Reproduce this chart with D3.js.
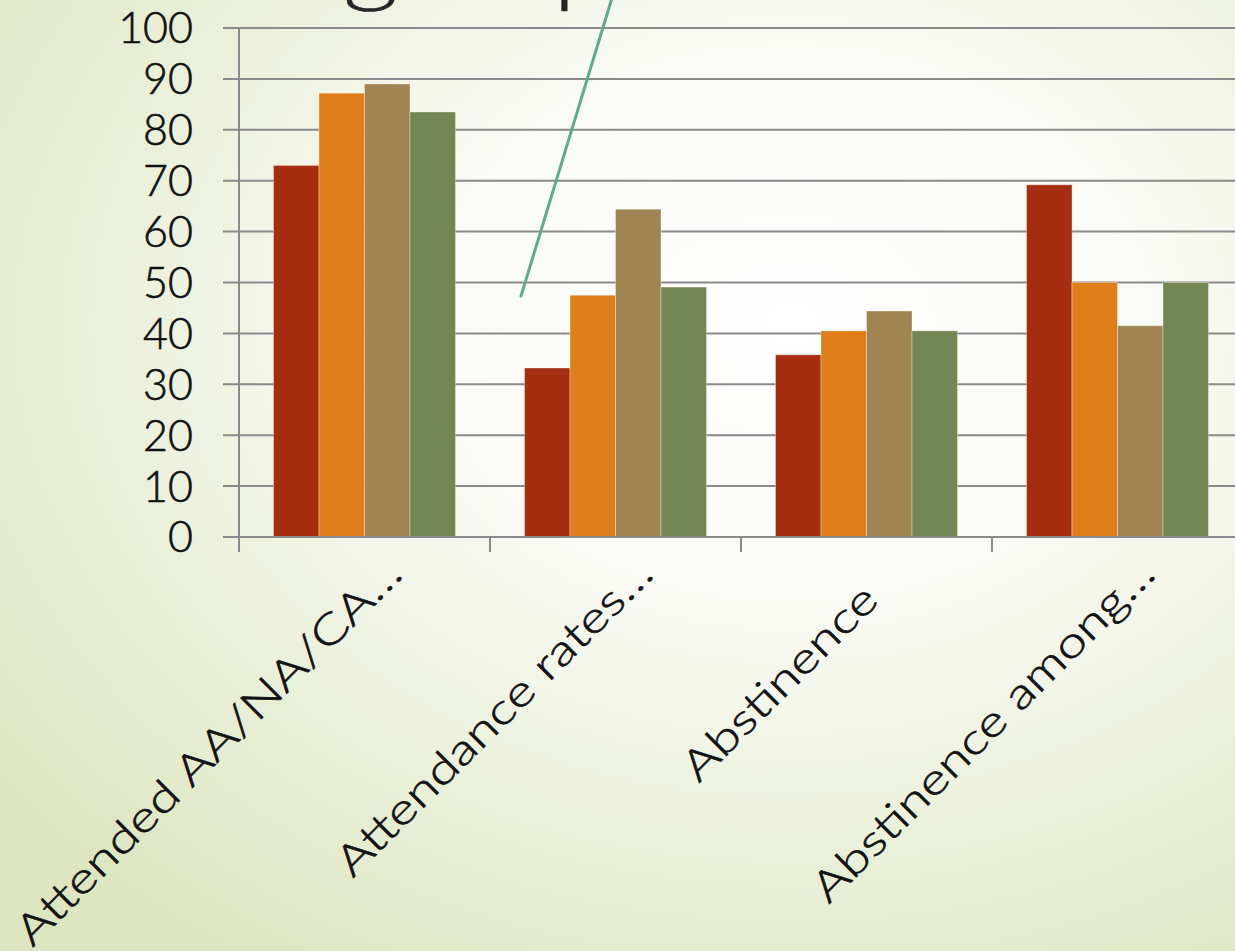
<!DOCTYPE html>
<html>
<head>
  <meta charset="utf-8">
  <style>
    body { margin: 0; padding: 0; overflow: hidden; }
    svg { display: block; }
    .tick-label, .cat-label, .title {
      font-family: "Century Gothic", "URW Gothic", "Lato", sans-serif;
      font-weight: 300;
      fill: #111;
      stroke: #111;
      stroke-width: 0.6px;
    }
  </style>
</head>
<body>
  <div id="chart"></div>
  <script src="https://d3js.org/d3.v7.min.js"></script>
  <script>
    // chart data
    var categories = ["Attended AA/NA/CA\u2026", "Attendance rates\u2026", "Abstinence", "Abstinence among\u2026"];
    var seriesNames = ["Series 1", "Series 2", "Series 3", "Series 4"];
    var series1 = [73, 33.2, 35.8, 69.2];
    var series2 = [87.2, 47.5, 40.5, 50];
    var series3 = [89, 64.4, 44.4, 41.5];
    var series4 = [83.5, 49.1, 40.5, 50];
    var yTicks = [0, 10, 20, 30, 40, 50, 60, 70, 80, 90, 100];
    var colors = ["#a52e10", "#de7e19", "#a08451", "#738752"];

    var allSeries = [series1, series2, series3, series4];

    var width = 1235,
      height = 951;

    var svg = d3.select("#chart").append("svg")
      .attr("width", width)
      .attr("height", height);

    var defs = svg.append("defs");
    var grad = defs.append("radialGradient")
      .attr("id", "bg")
      .attr("cx", 0.64).attr("cy", 0.34).attr("r", 0.8);
    grad.append("stop").attr("offset", "0%").attr("stop-color", "#ffffff");
    grad.append("stop").attr("offset", "35%").attr("stop-color", "#fafbf6");
    grad.append("stop").attr("offset", "100%").attr("stop-color", "#dde6c1");

    svg.append("rect")
      .attr("width", width)
      .attr("height", height)
      .attr("fill", "url(#bg)");

    // title cut off at the top of the slide
    var title = svg.append("text")
      .attr("class", "title")
      .attr("x", 343)
      .attr("y", -3)
      .style("font-size", "80px")
      .style("fill", "#262626")
      .style("stroke", "#262626")
      .text("groups");
    var tLen = title.node().getComputedTextLength();
    title.attr("textLength", tLen * 1.35).attr("lengthAdjust", "spacingAndGlyphs");

    var plotLeft = 239, plotRight = 1243, plotTop = 28, plotBottom = 537;

    var x0 = d3.scaleBand()
      .domain(categories)
      .range([plotLeft, plotRight])
      .paddingInner(0.275)
      .paddingOuter(0.1375);

    var x1 = d3.scaleBand()
      .domain(d3.range(seriesNames.length))
      .range([0, x0.bandwidth()]);

    var y = d3.scaleLinear()
      .domain([0, 100])
      .range([plotBottom, plotTop]);

    // gridlines
    svg.append("g")
      .selectAll("line")
      .data(yTicks)
      .enter().append("line")
      .attr("x1", plotLeft - 16)
      .attr("x2", width)
      .attr("y1", function(d) { return y(d); })
      .attr("y2", function(d) { return y(d); })
      .attr("stroke", "#8a8a8a")
      .attr("stroke-width", 2);

    // y axis labels
    svg.append("g")
      .selectAll("text")
      .data(yTicks)
      .enter().append("text")
      .attr("class", "tick-label")
      .attr("x", 193)
      .attr("y", function(d) { return y(d); })
      .attr("dy", "0.36em")
      .attr("text-anchor", "end")
      .style("font-size", "43px")
      .text(function(d) { return d; });

    // bars
    var groups = svg.append("g")
      .selectAll("g")
      .data(categories)
      .enter().append("g")
      .attr("transform", function(d) { return "translate(" + x0(d) + ",0)"; });

    groups.selectAll("rect")
      .data(function(d, i) {
        return allSeries.map(function(s, k) { return { k: k, v: s[i] }; });
      })
      .enter().append("rect")
      .attr("x", function(d) { return x1(d.k); })
      .attr("width", x1.bandwidth())
      .attr("y", function(d) { return y(d.v); })
      .attr("height", function(d) { return y(0) - y(d.v); })
      .attr("fill", function(d) { return colors[d.k]; })
      .attr("stroke", "rgba(255,255,255,0.35)")
      .attr("stroke-width", 1);

    // axes lines
    svg.append("line")
      .attr("x1", plotLeft).attr("x2", plotLeft)
      .attr("y1", plotTop).attr("y2", plotBottom + 15)
      .attr("stroke", "#8a8a8a").attr("stroke-width", 2);

    svg.append("line")
      .attr("x1", plotLeft - 16).attr("x2", width)
      .attr("y1", plotBottom).attr("y2", plotBottom)
      .attr("stroke", "#8a8a8a").attr("stroke-width", 2);

    var step = x0.step();
    svg.append("g")
      .selectAll("line")
      .data(categories)
      .enter().append("line")
      .attr("x1", function(d) { return x0(d) - step * 0.1375; })
      .attr("x2", function(d) { return x0(d) - step * 0.1375; })
      .attr("y1", plotBottom)
      .attr("y2", plotBottom + 15)
      .attr("stroke", "#8a8a8a").attr("stroke-width", 2);

    // category labels, rotated; the untruncated one sits a bit lower
    svg.append("g")
      .selectAll("text")
      .data(categories)
      .enter().append("text")
      .attr("class", "cat-label")
      .attr("text-anchor", "end")
      .style("font-size", "42px")
      .attr("transform", function(d) {
        var cx = x0(d) + x0.bandwidth() / 2 + 40;
        var back = d.indexOf("\u2026") < 0 ? 26 : 0;
        return "translate(" + (cx - back) + "," + (576 + back) + ") rotate(-45)";
      })
      .text(function(d) { return d; })
      .each(function() {
        var len = this.getComputedTextLength();
        d3.select(this).attr("textLength", len * 1.27).attr("lengthAdjust", "spacingAndGlyphs");
      });

    // callout line
    svg.append("line")
      .attr("x1", 612).attr("y1", -2)
      .attr("x2", 521).attr("y2", 296)
      .attr("stroke", "#5eab8f")
      .attr("stroke-width", 3)
      .attr("stroke-linecap", "round");
  </script>
</body>
</html>
